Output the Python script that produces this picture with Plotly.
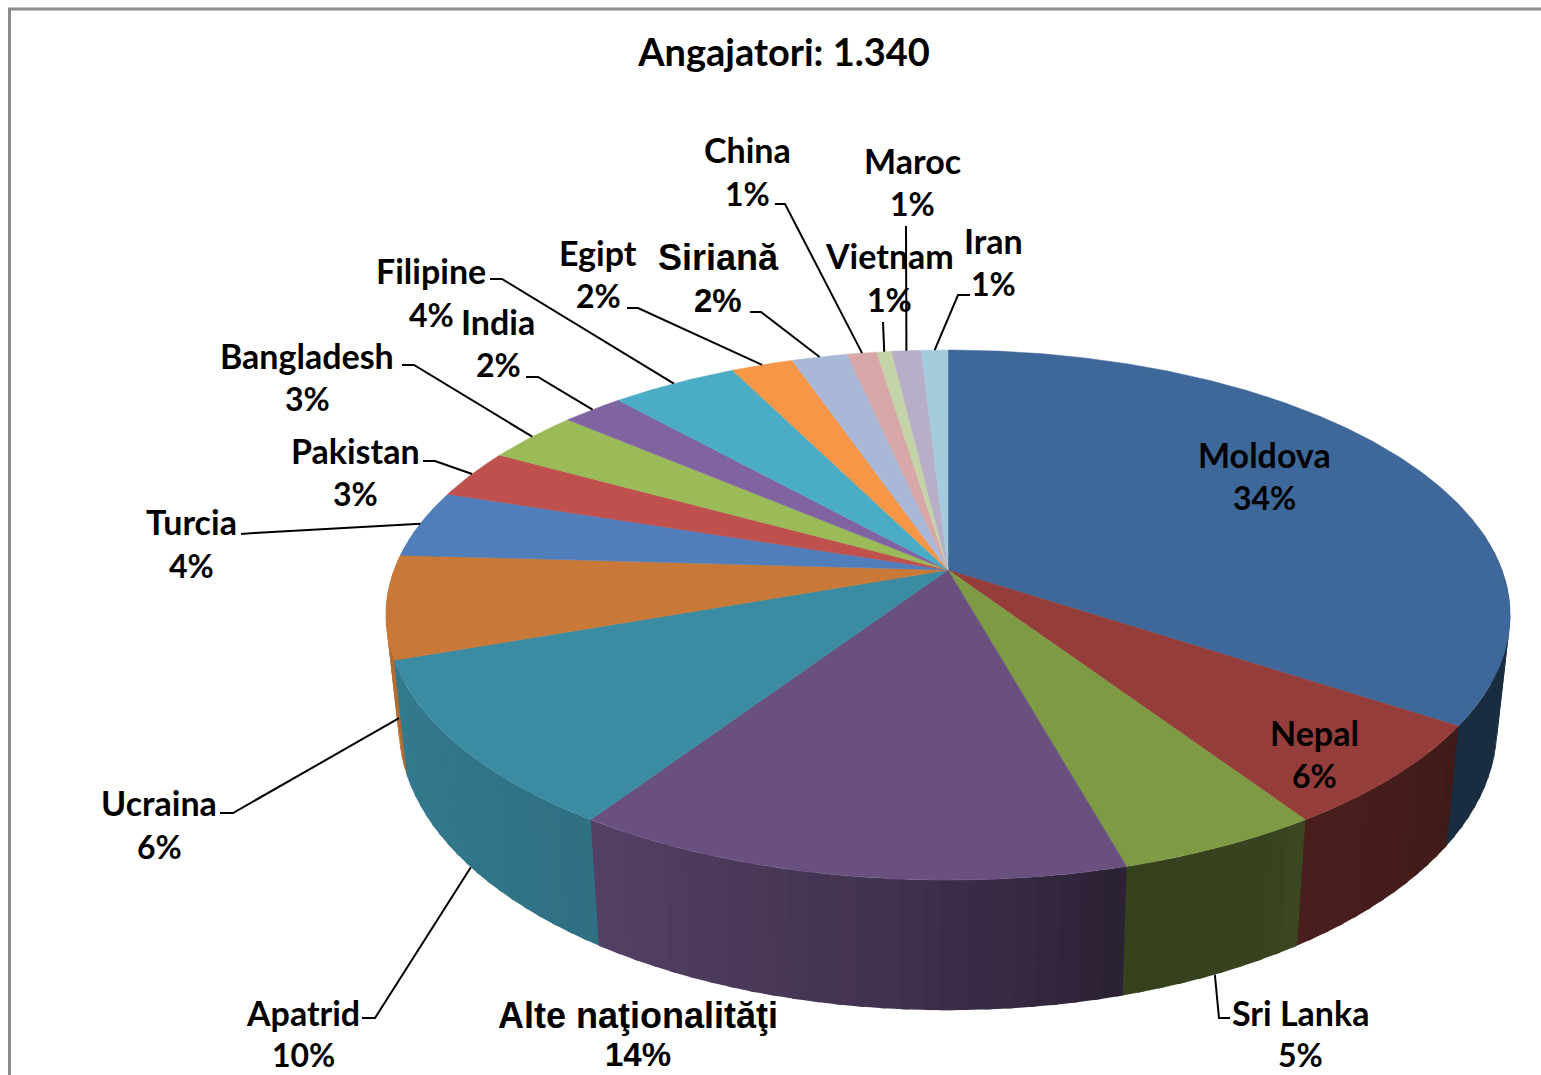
import numpy as np
import plotly.graph_objects as go

# ---------- data ----------
categories = ["Moldova", "Nepal", "Sri Lanka", "Alte naţionalităţi", "Apatrid", "Ucraina", "Turcia",
              "Pakistan", "Bangladesh", "India", "Filipine", "Egipt", "Siriană", "China", "Vietnam",
              "Maroc", "Iran"]
values = [34.3, 6.4, 5.0, 13.7, 10.3, 6.3, 4.1, 3.0, 3.2, 2.1, 4.3, 2.1, 1.9, 1.0, 0.5, 1.0, 0.9]
pct_labels = ["34%", "6%", "5%", "14%", "10%", "6%", "4%", "3%", "3%", "2%", "4%", "2%", "2%",
              "1%", "1%", "1%", "1%"]
title_text = "Angajatori: 1.340"

# ---------- style ----------
colors = ["#3e6899", "#953d3a", "#7f9a45", "#69507f", "#3b8ba3", "#c87937", "#4f7ebb", "#be504d",
          "#9bbb59", "#8064a2", "#4bacc6", "#f79646", "#a8b8d6", "#d8a8a8", "#c4d4a8", "#b8aec8",
          "#a4ccdc"]
arial_labels = {"Alte naţionalităţi", "Siriană"}
# label layout: name centre x, name y, percent y
label_pos = {
    "Moldova": (1264, 454, 497), "Nepal": (1314, 732, 775), "Sri Lanka": (1300, 1012, 1054),
    "Alte naţionalităţi": (638, 1015, 1054), "Apatrid": (303, 1012, 1054), "Ucraina": (159, 802, 846),
    "Turcia": (191, 521, 565), "Pakistan": (355, 450, 493), "Bangladesh": (307, 355, 398),
    "India": (498, 321, 364), "Filipine": (431, 270, 314), "Egipt": (598, 252, 295),
    "Siriană": (718, 257, 300), "China": (747, 149, 193), "Vietnam": (889, 255, 299),
    "Maroc": (912, 160, 203), "Iran": (993, 240, 283),
}
# leader line start / elbow next to the label; the far end is computed on the pie rim
leader_start = {
    "Sri Lanka": [(1230, 1018), (1219, 1018)], "Apatrid": [(362, 1018), (375, 1018)],
    "Ucraina": [(220, 813), (233, 813)], "Turcia": [(241, 534), (254, 533)],
    "Pakistan": [(423, 461), (435, 461)], "Bangladesh": [(402, 365), (414, 365)],
    "India": [(526, 377), (538, 377)], "Filipine": [(490, 279), (502, 279)],
    "Egipt": [(627, 308), (638, 308)], "Siriană": [(750, 312), (761, 312)],
    "China": [(775, 204), (785, 204)], "Vietnam": [(883, 322)], "Maroc": [(906, 226)],
    "Iran": [(970, 295), (958, 295)],
}
on_wall = {"Sri Lanka", "Apatrid", "Ucraina"}

CX, CY = 948.0, 570.0
RX, RY, K = 554.0, 257.4, 0.17


def top_rim(theta_deg):
    t = np.radians(theta_deg)
    x, y = np.sin(t), np.cos(t)
    d = 1 + K * y
    return RX * x / d, RY * y / d


def project_top(theta_deg):
    u, v = top_rim(theta_deg)
    return CX + u, CY - v


def project_bottom(theta_deg):
    u, v = top_rim(theta_deg)
    return CX + 0.977 * u, CY - (1.068 * v - 109)


def shade(color, f):
    r, g, b = int(color[1:3], 16), int(color[3:5], 16), int(color[5:7], 16)
    return f"rgb({r*f:.0f},{g*f:.0f},{b*f:.0f})"


def wall_factor(theta_deg):
    return float(np.interp(theta_deg, [80, 124, 126, 146, 148, 165, 185, 213, 250, 275],
                           [.42, .42, .44, .50, .44, .42, .62, .80, .88, .95]))


fractions = np.array(values) / sum(values)
edges = np.concatenate([[0], np.cumsum(fractions)]) * 360
mids = (edges[:-1] + edges[1:]) / 2

fig = go.Figure()

# side wall, painted from the sides towards the front; each piece runs a little
# under the next one so that no seams show
quads = []
for i in range(len(values)):
    a0, a1 = max(edges[i], 80), min(edges[i + 1], 285)
    if a1 <= a0:
        continue
    n = max(1, int(np.ceil((a1 - a0) / 2.0)))
    steps = np.linspace(a0, a1, n + 1)
    for s0, s1 in zip(steps[:-1], steps[1:]):
        quads.append((abs((s0 + s1) / 2 - 180), i, s0, s1))
for _, i, s0, s1 in sorted(quads, key=lambda q: -q[0]):
    c = (s0 + s1) / 2
    if c < 180:
        arc = np.linspace(s0, s1 + 0.6, 4)
    else:
        arc = np.linspace(s0 - 0.6, s1, 4)
    tx, ty = project_top(arc)
    bx, by = project_bottom(arc)
    col = shade(colors[i], wall_factor(c))
    fig.add_trace(go.Scatter(x=np.r_[tx, bx[::-1], tx[0]], y=np.r_[ty, by[::-1], ty[0]], mode="lines",
                             fill="toself", fillcolor=col, line=dict(color=col, width=0), hoverinfo="skip",
                             showlegend=False))

# top surface
for i, name in enumerate(categories):
    arc = np.linspace(edges[i], edges[i + 1], max(3, int((edges[i + 1] - edges[i]) * 2)))
    tx, ty = project_top(arc)
    fig.add_trace(go.Scatter(x=np.r_[CX, tx, CX], y=np.r_[CY, ty, CY], mode="lines", fill="toself",
                             fillcolor=colors[i], line=dict(color=colors[i], width=0.5), name=name,
                             text=name, hoverinfo="text", showlegend=False))

# leader lines
for i, name in enumerate(categories):
    if name not in leader_start:
        continue
    pts = list(leader_start[name])
    end = project_bottom(mids[i]) if name in on_wall else project_top(mids[i])
    pts.append((float(end[0]), float(end[1])))
    fig.add_trace(go.Scatter(x=[p[0] for p in pts], y=[p[1] for p in pts], mode="lines",
                             line=dict(color="black", width=2), hoverinfo="skip", showlegend=False))

# labels
annotations = []
for i, name in enumerate(categories):
    cx, ny, py = label_pos[name]
    arial = name in arial_labels
    fam = "Liberation Sans" if arial else "Lato"
    name_size = 36 if arial else 34
    pct_size = 33 if arial else 32
    for txt, yy, size in ((name, ny, name_size), (pct_labels[i], py, pct_size)):
        annotations.append(dict(x=cx, y=yy, xref="x", yref="y", text=f"<b>{txt}</b>", showarrow=False,
                                xanchor="center", yanchor="middle",
                                font=dict(family=fam, size=size, color="black")))

fig.update_layout(
    width=1541, height=1075, margin=dict(l=0, r=0, t=0, b=0, pad=0), autosize=False,
    paper_bgcolor="white", plot_bgcolor="white", showlegend=False,
    title=dict(text=f"<b>{title_text}</b>", x=784 / 1541, y=1 - 53 / 1075, xanchor="center", yanchor="middle",
               xref="paper", yref="paper", font=dict(family="Lato", size=38, color="black")),
    xaxis=dict(range=[0, 1541], visible=False, fixedrange=True),
    yaxis=dict(range=[1075, 0], visible=False, fixedrange=True),
    annotations=annotations,
    shapes=[dict(type="rect", xref="x", yref="y", x0=9.5, y0=9, x1=1700, y1=1200, layer="below",
                 line=dict(color="#8c8c8c", width=3), fillcolor="white")],
)
fig.write_html("out.html", config=dict(displayModeBar=False),
               post_script="document.body.style.margin='0';document.body.style.overflow='hidden';")
